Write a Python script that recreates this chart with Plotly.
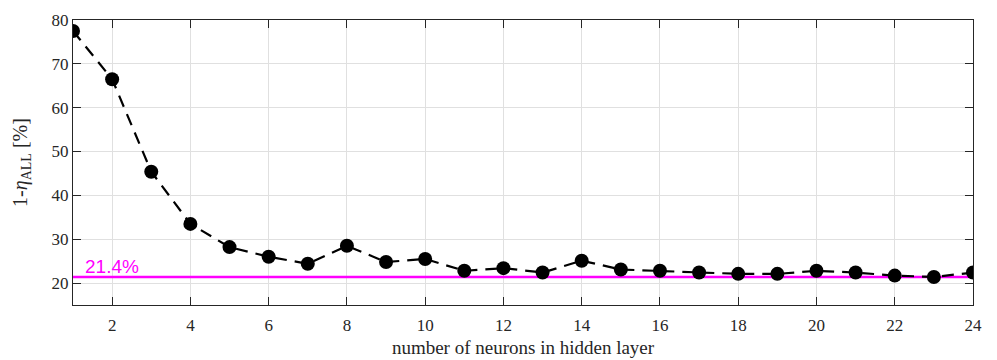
import plotly.graph_objects as go

neurons = list(range(1, 25))
loss = [77.5, 66.5, 45.4, 33.5, 28.2, 26.0, 24.4, 28.5, 24.8, 25.5,
        22.8, 23.4, 22.4, 25.1, 23.1, 22.8, 22.4, 22.1, 22.1, 22.8,
        22.4, 21.7, 21.4, 22.4]
best = 21.4
x_ticks = list(range(2, 25, 2))
y_ticks = [20, 30, 40, 50, 60, 70, 80]

fig = go.Figure()
fig.add_trace(go.Scatter(
    x=[1, 24], y=[best, best], mode="lines",
    line=dict(color="#ff00ff", width=2.5), showlegend=False, hoverinfo="skip"))
fig.add_trace(go.Scatter(
    x=neurons, y=loss, mode="lines+markers",
    line=dict(color="black", width=2.2, dash="12px,8px"),
    marker=dict(color="black", size=14), showlegend=False))

fig.add_annotation(x=1, y=best, xref="x", yref="y", text=f"{best}%",
                   showarrow=False, xanchor="left", yanchor="bottom",
                   xshift=10, yshift=-2,
                   font=dict(family="Liberation Sans, Arial", size=19, color="#ff00ff"))

axis_common = dict(showline=True, linecolor="#262626", linewidth=1, mirror="ticks",
                   ticks="inside", ticklen=8, tickcolor="#262626", automargin=False,
                   showgrid=True, gridcolor="#e0e0e0", gridwidth=1, zeroline=False,
                   tickfont=dict(family="Liberation Serif, Times New Roman", size=17, color="#262626"))

fig.update_xaxes(range=[1, 24], tickvals=x_ticks, ticklabelstandoff=5, **axis_common,
                 title=dict(text="number of neurons in hidden layer", standoff=6,
                            font=dict(family="Liberation Serif, Times New Roman", size=19, color="#262626")))
fig.update_yaxes(range=[15, 80], tickvals=y_ticks, **axis_common,
                 title=dict(text="1-<i>η</i><sub>ALL</sub> [%]", standoff=18,
                            font=dict(family="Liberation Serif, Times New Roman", size=20, color="#262626")))

fig.update_layout(width=997, height=360, margin=dict(l=73, r=24, t=20, b=55),
                  plot_bgcolor="white", paper_bgcolor="white")
fig.write_html("out.html")
